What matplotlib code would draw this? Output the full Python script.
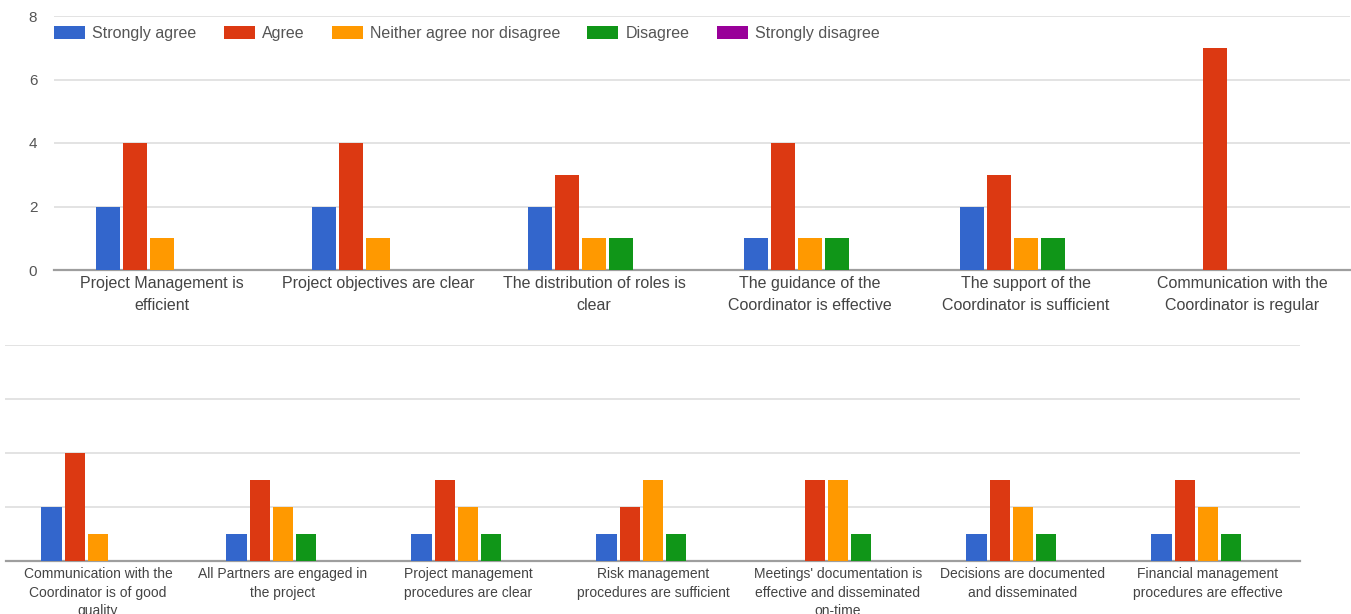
import numpy as np
import matplotlib
matplotlib.use("Agg")
import matplotlib.pyplot as plt

plt.rcParams['font.family'] = ['Liberation Sans', 'DejaVu Sans']

# Svarkategorier og farger
svar = ['Strongly agree', 'Agree', 'Neither agree nor disagree', 'Disagree', 'Strongly disagree']
farger = ['#3366cc', '#dc3912', '#ff9900', '#109618', '#990099']

# Øverste diagram
topp_labels = ['Project Management is\nefficient',
               'Project objectives are clear',
               'The distribution of roles is\nclear',
               'The guidance of the\nCoordinator is effective',
               'The support of the\nCoordinator is sufficient',
               'Communication with the\nCoordinator is regular']
topp_strongly_agree = [2, 2, 2, 1, 2, 0]
topp_agree = [4, 4, 3, 4, 3, 7]
topp_neither = [1, 1, 1, 1, 1, 0]
topp_disagree = [0, 0, 1, 1, 1, 0]
topp_strongly_disagree = [0, 0, 0, 0, 0, 0]

# Nederste diagram
bunn_labels = ['Communication with the\nCoordinator is of good\nquality',
               'All Partners are engaged in\nthe project',
               'Project management\nprocedures are clear',
               'Risk management\nprocedures are sufficient',
               "Meetings' documentation is\neffective and disseminated\non-time",
               'Decisions are documented\nand disseminated',
               'Financial management\nprocedures are effective']
bunn_strongly_agree = [2, 1, 1, 1, 0, 1, 1]
bunn_agree = [4, 3, 3, 2, 3, 3, 3]
bunn_neither = [1, 2, 2, 3, 3, 2, 2]
bunn_disagree = [0, 1, 1, 1, 1, 1, 1]
bunn_strongly_disagree = [0, 0, 0, 0, 0, 0, 0]

W, H = 1351, 614
fig = plt.figure(figsize=(W / 100, H / 100), dpi=100)


def lag_akse(left, top, right, bottom):
    # posisjon i piksler -> figurkoordinater
    return fig.add_axes([left / W, 1 - bottom / H, (right - left) / W, (bottom - top) / H])


def tegn(ax, labels, serier, fontsize, linjeavstand, yticks=True):
    x = np.arange(len(labels))
    steg = 0.125
    for i, (verdier, farge) in enumerate(zip(serier, farger)):
        ax.bar(x + (i - 2) * steg, verdier, width=0.112, color=farge, label=svar[i], zorder=3)
    ax.set_xlim(-0.5, len(labels) - 0.5)
    ax.set_ylim(0, 8)
    ax.set_yticks([0, 2, 4, 6, 8])
    ax.grid(axis='y', color='#dedede', linewidth=1.2, zorder=0)
    ax.set_axisbelow(True)
    for s in ['top', 'right', 'left']:
        ax.spines[s].set_visible(False)
    ax.spines['bottom'].set_color('#9e9e9e')
    ax.spines['bottom'].set_linewidth(1.6)
    ax.set_xticks(x)
    ax.set_xticklabels(labels, fontsize=fontsize, color='#444444', linespacing=linjeavstand)
    ax.tick_params(axis='x', length=0, pad=4)
    ax.tick_params(axis='y', length=0, labelsize=11, labelcolor='#555555', pad=12)
    if not yticks:
        ax.set_yticklabels([])


ax1 = lag_akse(54, 16, 1350, 270)
tegn(ax1, topp_labels,
     [topp_strongly_agree, topp_agree, topp_neither, topp_disagree, topp_strongly_disagree],
     11.5, 1.6)

leg = ax1.legend(loc='center left', bbox_to_anchor=(0.0, 1 - 17.5 / 254), ncol=5, frameon=False,
                 fontsize=11.5, handlelength=1.94, handleheight=0.85, handletextpad=0.45,
                 columnspacing=1.7, borderaxespad=0, borderpad=0)
for t in leg.get_texts():
    t.set_color('#555555')

ax2 = lag_akse(5.5, 345, 1300.5, 561)
tegn(ax2, bunn_labels,
     [bunn_strongly_agree, bunn_agree, bunn_neither, bunn_disagree, bunn_strongly_disagree],
     10, 1.45, yticks=False)

fig.savefig('out.png', dpi=100)
